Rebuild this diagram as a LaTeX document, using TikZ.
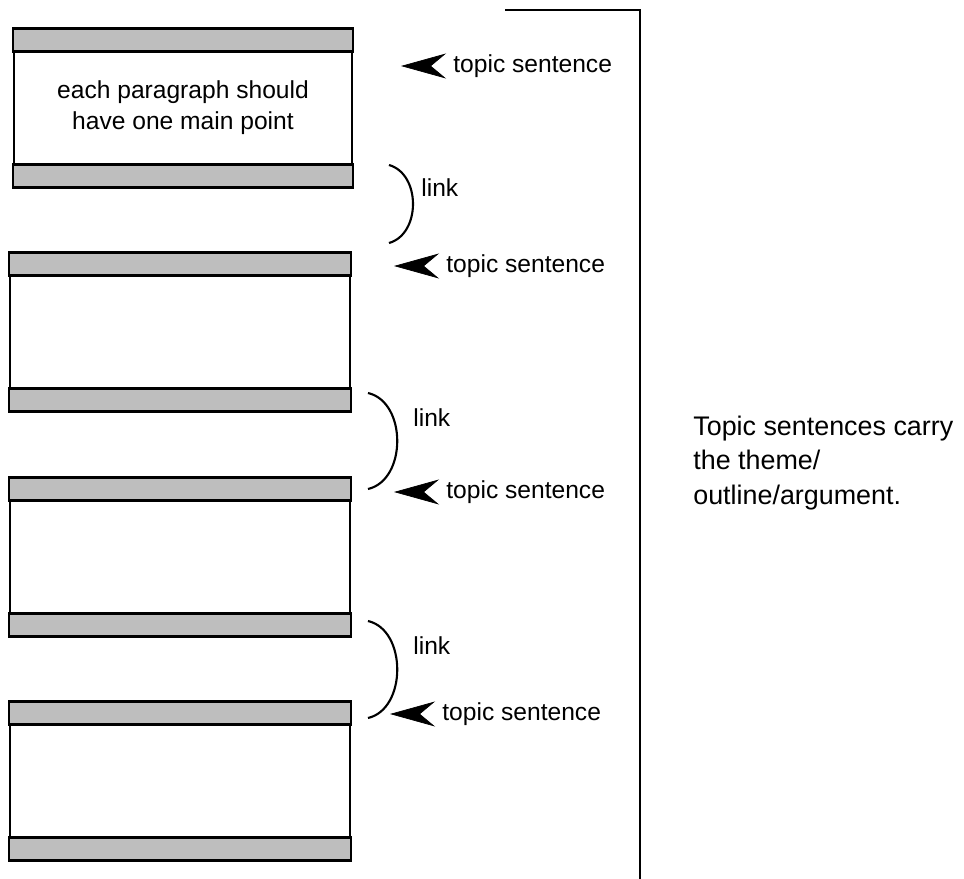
\documentclass[tikz,border=0pt]{standalone}
\usepackage{fontspec}
\setmainfont{Liberation Sans}
\usetikzlibrary{arrows.meta,
	calc,
	positioning}
\definecolor{bandgray}{RGB}{190,190,190}

\begin{document}
\begin{tikzpicture}[x=0.02cm, y=-0.02cm,
	parabox/.style={draw, line width=1.2pt, minimum height=3.14cm, inner sep=0pt, align=center, font=\fontsize{14}{17.5}\selectfont},
	band/.style={draw, line width=1.2pt, fill=bandgray},
	txt/.style={inner sep=0pt, anchor=west, font=\fontsize{14}{17}\selectfont},
	tsarrow/.style={-{Stealth[length=0.9cm, width=0.5cm, inset=0.3cm]}},
	linkarc/.style={line width=1.2pt}]
	\useasboundingbox (0,0) rectangle (964,879);
	\node[parabox, minimum width=6.76cm] (para1) at (183,108) {each paragraph should\\have one main point};
	\foreach \i/\y in {2/332,3/557,4/781} {
		\node[parabox, minimum width=6.8cm] (para\i) at (180,\y) {};
	}
	\foreach \i in {1,...,4} {
		\draw[band] (para\i.north west) rectangle ($(para\i.north east)+(0,23)$);
		\draw[band] (para\i.south east) rectangle ($(para\i.south west)+(0,-23)$);
	}
	\foreach \i/\x/\y in {1/453/66, 2/446/266, 3/446/492, 4/442/714} {
		\node[txt] (ts\i) at (\x,\y) {topic sentence};
		\coordinate (tip\i) at ($(ts\i.west)+(-52,0)$);
		\draw[tsarrow] ($(tip\i)+(28,0)$) -- (tip\i);
	}
	\foreach \i/\x/\ya/\yb/\c in {1/389/165/243/421, 2/368/393/489/407, 3/368/621/718/407} {
		\coordinate (la\i) at (\x,\ya);
		\coordinate (lb\i) at (\x,\yb);
		\draw[linkarc] (la\i) .. controls (\c,\ya+9) and (\c,\yb-9) .. (lb\i);
	}
	\node[txt] (lk1) at (421,188) {link};
	\node[txt] (lk2) at (413,418) {link};
	\node[txt] (lk3) at (413,646) {link};
	\coordinate (rtop) at (505,10);
	\coordinate (rcorner) at (640,10);
	\coordinate (rbottom) at (640,879);
	\draw[line width=1.2pt] (rtop) -- (rcorner) -- (rbottom);
	\node[inner sep=0pt, anchor=west, align=left, font=\fontsize{15.3}{19.5}\selectfont] (theme) at (693,463) {Topic sentences carry\\the theme/\\outline/argument.};
\end{tikzpicture}
\end{document}
